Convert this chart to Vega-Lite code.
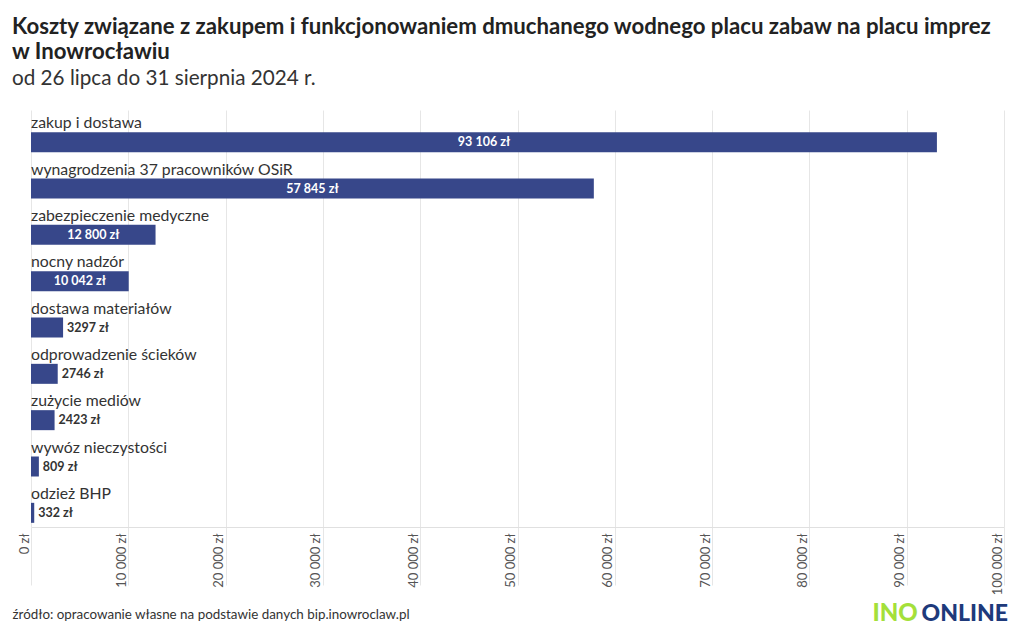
{
  "$schema": "https://vega.github.io/schema/vega-lite/v6.json",
  "width": 973,
  "height": 417,
  "autosize": {"type": "none"},
  "padding": {"left": 31, "top": 110, "right": 16, "bottom": 111},
  "background": "#ffffff",
  "title": {
    "text": ["Koszty związane z zakupem i funkcjonowaniem dmuchanego wodnego placu zabaw na placu imprez", "w Inowrocławiu"],
    "subtitle": "od 26 lipca do 31 sierpnia 2024 r.",
    "anchor": "start",
    "frame": "group",
    "dx": -19,
    "offset": 21,
    "font": "Lato",
    "fontSize": 22.2,
    "fontWeight": "bold",
    "color": "#222222",
    "lineHeight": 25,
    "subtitleFont": "Lato",
    "subtitleFontSize": 20.7,
    "subtitleColor": "#333333",
    "subtitlePadding": 6,
    "subtitleLineHeight": 24
  },
  "data": {
    "values": [
      {"category": "zakup i dostawa", "value": 93106},
      {"category": "wynagrodzenia 37 pracowników OSiR", "value": 57845},
      {"category": "zabezpieczenie medyczne", "value": 12800},
      {"category": "nocny nadzór", "value": 10042},
      {"category": "dostawa materiałów", "value": 3297},
      {"category": "odprowadzenie ścieków", "value": 2746},
      {"category": "zużycie mediów", "value": 2423},
      {"category": "wywóz nieczystości", "value": 809},
      {"category": "odzież BHP", "value": 332}
    ]
  },
  "transform": [
    {"calculate": "datum.value / 2", "as": "mid"},
    {"calculate": "datum.value >= 10000 ? format(datum.value, '$,.0f') : format(datum.value, '$.0f')", "as": "label"}
  ],
  "layer": [
    {
      "mark": {"type": "bar", "height": 20, "yOffset": 9, "color": "#37478a"},
      "encoding": {
        "y": {
          "field": "category", "type": "nominal", "sort": null,
          "scale": {"paddingInner": 0, "paddingOuter": 0},
          "axis": {
            "orient": "left", "labels": false, "ticks": false, "domain": false, "grid": false,
            "title": "INO", "titleAngle": 0, "titleAlign": "left", "titleBaseline": "alphabetic",
            "titleX": 841, "titleY": 510, "titleFont": "Lato", "titleFontSize": 24, "titleFontWeight": 900,
            "titleColor": "#a4e03a"
          }
        },
        "x": {
          "field": "value", "type": "quantitative",
          "scale": {"domain": [0, 100000], "nice": false},
          "axis": {
            "values": [0, 10000, 20000, 30000, 40000, 50000, 60000, 70000, 80000, 90000, 100000],
            "format": "$,.0f",
            "grid": true, "gridColor": "#e6e6e6", "gridWidth": 1,
            "domain": true, "domainColor": "#e0e0e0",
            "ticks": true, "tickSize": 58, "tickColor": "#e6e6e6",
            "labelAngle": -90, "labelAlign": "right", "labelBaseline": "bottom",
            "labelPadding": -52, "labelFont": "Lato", "labelFontSize": 13, "labelColor": "#555555",
            "labelFlush": false, "labelOverlap": false,
            "title": "źródło: opracowanie własne na podstawie danych bip.inowroclaw.pl",
            "titleAngle": 0, "titleAlign": "left", "titleBaseline": "alphabetic",
            "titleX": -19, "titleY": 91, "titleFont": "Lato", "titleFontSize": 13.4,
            "titleFontWeight": "normal", "titleColor": "#333333"
          }
        }
      }
    },
    {
      "mark": {"type": "text", "align": "left", "baseline": "alphabetic", "dy": -5, "font": "Lato", "fontSize": 15.8, "color": "#333333"},
      "encoding": {
        "y": {
          "field": "category", "type": "nominal", "sort": null,
          "axis": {
            "orient": "right", "labels": false, "ticks": false, "domain": false, "grid": false,
            "title": "ONLINE", "titleAngle": 0, "titleAlign": "left", "titleBaseline": "alphabetic",
            "titleX": -83, "titleY": 510, "titleFont": "Lato", "titleFontSize": 23, "titleFontWeight": 900,
            "titleColor": "#1e3a7b"
          }
        },
        "x": {"datum": 0, "type": "quantitative"},
        "text": {"field": "category"}
      }
    },
    {
      "transform": [{"filter": "datum.value >= 10000"}],
      "mark": {"type": "text", "align": "center", "baseline": "middle", "yOffset": 9, "font": "Lato", "fontSize": 12.5, "fontWeight": "bold", "color": "#ffffff"},
      "encoding": {
        "y": {"field": "category", "type": "nominal", "sort": null, "axis": null},
        "x": {"field": "mid", "type": "quantitative"},
        "text": {"field": "label"}
      }
    },
    {
      "transform": [{"filter": "datum.value < 10000"}],
      "mark": {"type": "text", "align": "left", "baseline": "middle", "yOffset": 9, "dx": 4, "font": "Lato", "fontSize": 12.5, "fontWeight": "bold", "color": "#333333"},
      "encoding": {
        "y": {"field": "category", "type": "nominal", "sort": null, "axis": null},
        "x": {"field": "value", "type": "quantitative"},
        "text": {"field": "label"}
      }
    }
  ],
  "resolve": {"axis": {"y": "independent"}},
  "config": {
    "view": {"stroke": null},
    "locale": {"number": {"decimal": ",", "thousands": " ", "grouping": [3], "currency": ["", " zł"]}}
  }
}
